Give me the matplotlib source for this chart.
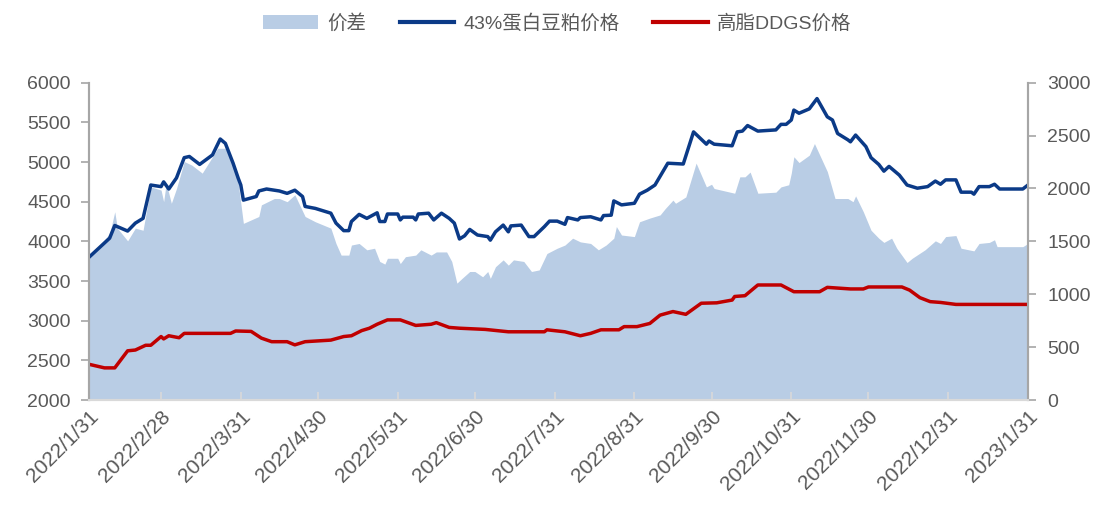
import matplotlib
matplotlib.use('Agg')
import matplotlib.pyplot as plt
import pandas as pd
from matplotlib.patches import Patch
from matplotlib.lines import Line2D

plt.rcParams['font.family'] = ['Liberation Sans', 'Noto Sans CJK SC', 'DejaVu Sans']

# 43%蛋白豆粕价格 (左轴)
soy_dates = ['2022-01-31', '2022-02-08', '2022-02-10', '2022-02-15', '2022-02-18', '2022-02-21',
             '2022-02-24', '2022-02-28', '2022-03-01', '2022-03-03', '2022-03-06', '2022-03-09',
             '2022-03-11', '2022-03-15', '2022-03-20', '2022-03-23', '2022-03-25', '2022-03-28',
             '2022-03-30', '2022-03-31', '2022-04-01', '2022-04-06', '2022-04-07', '2022-04-10',
             '2022-04-15', '2022-04-18', '2022-04-21', '2022-04-24', '2022-04-25', '2022-04-29',
             '2022-05-05', '2022-05-07', '2022-05-10', '2022-05-12', '2022-05-13', '2022-05-16',
             '2022-05-19', '2022-05-23', '2022-05-24', '2022-05-26', '2022-05-27', '2022-05-31',
             '2022-06-01', '2022-06-02', '2022-06-06', '2022-06-07', '2022-06-08', '2022-06-12',
             '2022-06-14', '2022-06-17', '2022-06-20', '2022-06-22', '2022-06-24', '2022-06-26',
             '2022-06-28', '2022-07-01', '2022-07-05', '2022-07-06', '2022-07-08', '2022-07-11',
             '2022-07-13', '2022-07-14', '2022-07-18', '2022-07-21', '2022-07-23', '2022-07-27',
             '2022-07-29', '2022-08-01', '2022-08-04', '2022-08-05', '2022-08-09', '2022-08-10',
             '2022-08-14', '2022-08-18', '2022-08-19', '2022-08-22', '2022-08-23', '2022-08-26',
             '2022-08-31', '2022-09-02', '2022-09-05', '2022-09-08', '2022-09-13', '2022-09-19',
             '2022-09-23', '2022-09-28', '2022-09-29', '2022-10-01', '2022-10-08', '2022-10-10',
             '2022-10-12', '2022-10-14', '2022-10-18', '2022-10-25', '2022-10-27', '2022-10-29',
             '2022-10-31', '2022-11-01', '2022-11-03', '2022-11-07', '2022-11-10', '2022-11-14',
             '2022-11-16', '2022-11-18', '2022-11-22', '2022-11-23', '2022-11-25', '2022-11-29',
             '2022-12-01', '2022-12-04', '2022-12-06', '2022-12-08', '2022-12-12', '2022-12-15',
             '2022-12-19', '2022-12-23', '2022-12-26', '2022-12-28', '2022-12-30', '2023-01-03',
             '2023-01-05', '2023-01-09', '2023-01-10', '2023-01-12', '2023-01-16', '2023-01-18',
             '2023-01-20', '2023-01-29', '2023-01-31']
soy_price = [3800, 4040, 4200, 4130, 4230, 4290,
             4710, 4690, 4750, 4660, 4800, 5055,
             5070, 4970, 5090, 5290, 5235, 4985,
             4795, 4710, 4520, 4565, 4635, 4660,
             4635, 4605, 4645, 4565, 4440, 4415,
             4355, 4230, 4135, 4135, 4250, 4340,
             4290, 4360, 4250, 4250, 4345, 4345,
             4270, 4305, 4305, 4270, 4345, 4355,
             4270, 4355, 4290, 4230, 4030, 4070,
             4150, 4080, 4060, 4015, 4120, 4205,
             4120, 4195, 4205, 4060, 4060, 4185,
             4255, 4255, 4215, 4300, 4270, 4300,
             4310, 4270, 4325, 4330, 4510, 4460,
             4480, 4595, 4645, 4710, 4985, 4975,
             5380, 5225, 5265, 5225, 5205, 5380,
             5390, 5460, 5390, 5405, 5475, 5475,
             5530, 5655, 5615, 5670, 5800, 5570,
             5530, 5360, 5280, 5255, 5340, 5195,
             5055, 4970, 4885, 4945, 4835, 4710,
             4670, 4690, 4760, 4720, 4775, 4775,
             4620, 4620, 4595, 4690, 4690, 4720,
             4660, 4660, 4710]

# 高脂DDGS价格 (左轴)
ddgs_dates = ['2022-01-31', '2022-02-06', '2022-02-10', '2022-02-15', '2022-02-18', '2022-02-22',
              '2022-02-24', '2022-02-28', '2022-03-01', '2022-03-03', '2022-03-07', '2022-03-09',
              '2022-03-27', '2022-03-29', '2022-04-04', '2022-04-08', '2022-04-12', '2022-04-18',
              '2022-04-21', '2022-04-25', '2022-05-05', '2022-05-10', '2022-05-13', '2022-05-17',
              '2022-05-20', '2022-05-23', '2022-05-27', '2022-06-01', '2022-06-07', '2022-06-13',
              '2022-06-15', '2022-06-20', '2022-06-24', '2022-07-04', '2022-07-13', '2022-07-27',
              '2022-07-28', '2022-08-04', '2022-08-10', '2022-08-14', '2022-08-18', '2022-08-25',
              '2022-08-27', '2022-09-01', '2022-09-06', '2022-09-10', '2022-09-15', '2022-09-20',
              '2022-09-26', '2022-10-02', '2022-10-08', '2022-10-09', '2022-10-13', '2022-10-18',
              '2022-10-27', '2022-11-01', '2022-11-11', '2022-11-14', '2022-11-23', '2022-11-28',
              '2022-11-30', '2022-12-13', '2022-12-16', '2022-12-20', '2022-12-24', '2022-12-28',
              '2023-01-03', '2023-01-31']
ddgs_price = [2450, 2405, 2405, 2620, 2630, 2690,
              2690, 2800, 2770, 2810, 2785, 2840,
              2840, 2870, 2865, 2780, 2735, 2735,
              2695, 2735, 2755, 2800, 2810, 2875,
              2905, 2955, 3010, 3010, 2940, 2955,
              2975, 2915, 2905, 2890, 2860, 2860,
              2885, 2860, 2810, 2840, 2885, 2885,
              2925, 2925, 2965, 3070, 3115, 3080,
              3220, 3225, 3260, 3305, 3315, 3450,
              3450, 3365, 3365, 3420, 3400, 3400,
              3425, 3425, 3385, 3290, 3240, 3230,
              3205, 3205]

# 价差 (右轴)
spread_dates = ['2022-01-31', '2022-02-08', '2022-02-10', '2022-02-11', '2022-02-15', '2022-02-18',
                '2022-02-21', '2022-02-24', '2022-02-28', '2022-03-01', '2022-03-02', '2022-03-04',
                '2022-03-06', '2022-03-09', '2022-03-12', '2022-03-16', '2022-03-20', '2022-03-22',
                '2022-03-25', '2022-03-28', '2022-03-30', '2022-04-01', '2022-04-07', '2022-04-08',
                '2022-04-13', '2022-04-15', '2022-04-18', '2022-04-21', '2022-04-25', '2022-04-29',
                '2022-05-05', '2022-05-07', '2022-05-09', '2022-05-12', '2022-05-13', '2022-05-16',
                '2022-05-19', '2022-05-22', '2022-05-24', '2022-05-26', '2022-05-27', '2022-05-31',
                '2022-06-01', '2022-06-03', '2022-06-07', '2022-06-09', '2022-06-13', '2022-06-15',
                '2022-06-19', '2022-06-21', '2022-06-23', '2022-06-25', '2022-06-28', '2022-06-30',
                '2022-07-03', '2022-07-05', '2022-07-06', '2022-07-08', '2022-07-11', '2022-07-13',
                '2022-07-15', '2022-07-19', '2022-07-22', '2022-07-25', '2022-07-28', '2022-08-01',
                '2022-08-04', '2022-08-07', '2022-08-10', '2022-08-14', '2022-08-17', '2022-08-20',
                '2022-08-23', '2022-08-24', '2022-08-26', '2022-08-31', '2022-09-02', '2022-09-06',
                '2022-09-10', '2022-09-12', '2022-09-15', '2022-09-16', '2022-09-20', '2022-09-24',
                '2022-09-28', '2022-09-30', '2022-10-01', '2022-10-09', '2022-10-11', '2022-10-13',
                '2022-10-15', '2022-10-18', '2022-10-25', '2022-10-27', '2022-10-30', '2022-10-31',
                '2022-11-01', '2022-11-03', '2022-11-07', '2022-11-09', '2022-11-14', '2022-11-17',
                '2022-11-22', '2022-11-24', '2022-11-25', '2022-11-28', '2022-12-01', '2022-12-04',
                '2022-12-06', '2022-12-09', '2022-12-11', '2022-12-15', '2022-12-17', '2022-12-22',
                '2022-12-26', '2022-12-28', '2022-12-30', '2023-01-03', '2023-01-05', '2023-01-10',
                '2023-01-12', '2023-01-16', '2023-01-18', '2023-01-19', '2023-01-29', '2023-01-31']
spread = [1355, 1570, 1780, 1625, 1505, 1625,
          1605, 2015, 1985, 1875, 2050, 1860,
          2000, 2255, 2220, 2145, 2300, 2380,
          2380, 2220, 2050, 1670, 1735, 1845,
          1905, 1905, 1875, 1940, 1735, 1685,
          1625, 1480, 1370, 1370, 1465, 1480,
          1420, 1435, 1310, 1285, 1340, 1340,
          1290, 1355, 1370, 1420, 1370, 1400,
          1400, 1310, 1105, 1150, 1215, 1215,
          1165, 1215, 1150, 1260, 1325, 1275,
          1325, 1310, 1215, 1230, 1385, 1435,
          1465, 1530, 1495, 1480, 1420, 1465,
          1530, 1640, 1560, 1545, 1685, 1720,
          1750, 1810, 1890, 1860, 1920, 2240,
          2015, 2040, 2000, 1955, 2110, 2110,
          2155, 1955, 1965, 2015, 2035, 2145,
          2300, 2245, 2315, 2425, 2160, 1905,
          1905, 1875, 1930, 1780, 1605, 1530,
          1490, 1530, 1435, 1300, 1340, 1420,
          1505, 1480, 1545, 1555, 1435, 1410,
          1480, 1490, 1515, 1450, 1450, 1480]

tick_labels = ['2022/1/31', '2022/2/28', '2022/3/31', '2022/4/30', '2022/5/31', '2022/6/30',
               '2022/7/31', '2022/8/31', '2022/9/30', '2022/10/31', '2022/11/30', '2022/12/31',
               '2023/1/31']

text_color = '#595959'
spine_color = '#A6A6A6'

fig = plt.figure(figsize=(11.02, 5.15), dpi=100)
ax = fig.add_axes([0.0808, 0.2233, 0.852, 0.6161])
ax2 = ax.twinx()

# 面积图放在右轴, 折线放在左轴并置于上层
ax2.fill_between(pd.to_datetime(spread_dates), 0, spread, color='#B9CDE5', linewidth=0)
ax.plot(pd.to_datetime(soy_dates), soy_price, color='#0B3A87', linewidth=2.5)
ax.plot(pd.to_datetime(ddgs_dates), ddgs_price, color='#C00000', linewidth=2.5)
ax.set_zorder(ax2.get_zorder() + 1)
ax.patch.set_visible(False)

ticks = pd.to_datetime(tick_labels, format='%Y/%m/%d')
ax.set_xlim(ticks[0], ticks[-1])
ax.set_ylim(2000, 6000)
ax2.set_ylim(0, 3000)
ax.set_yticks(range(2000, 6001, 500))
ax2.set_yticks(range(0, 3001, 500))
ax.set_xticks(ticks)
ax.set_xticklabels(tick_labels, rotation=45, ha='right', rotation_mode='anchor')

for a in (ax, ax2):
    a.spines['top'].set_visible(False)
    a.spines['bottom'].set_color('#D9D9D9')
    a.spines['bottom'].set_linewidth(1.5)
    a.spines['left'].set_color(spine_color)
    a.spines['right'].set_color(spine_color)
    a.spines['left'].set_linewidth(1.5)
    a.spines['right'].set_linewidth(1.5)

ax.tick_params(axis='y', direction='out', length=6, width=1.2, color=spine_color,
               labelsize=14, labelcolor=text_color, pad=7)
ax2.tick_params(axis='y', direction='out', length=6, width=1.2, color=spine_color,
                labelsize=14, labelcolor=text_color, pad=8)
ax.tick_params(axis='x', direction='in', length=6, width=1.2, color='#D9D9D9',
               labelsize=15, labelcolor=text_color, pad=5)

handles = [Patch(facecolor='#B9CDE5', edgecolor='none'),
           Line2D([], [], color='#0B3A87', linewidth=3),
           Line2D([], [], color='#C00000', linewidth=3)]
fig.legend(handles, ['价差', '43%蛋白豆粕价格', '高脂DDGS价格'], loc='center',
           bbox_to_anchor=(0.506, 0.955), ncol=3, frameon=False, fontsize=14,
           labelcolor=text_color, handlelength=2.8, handletextpad=0.5, columnspacing=1.7)

fig.savefig('out.png', dpi=100)
